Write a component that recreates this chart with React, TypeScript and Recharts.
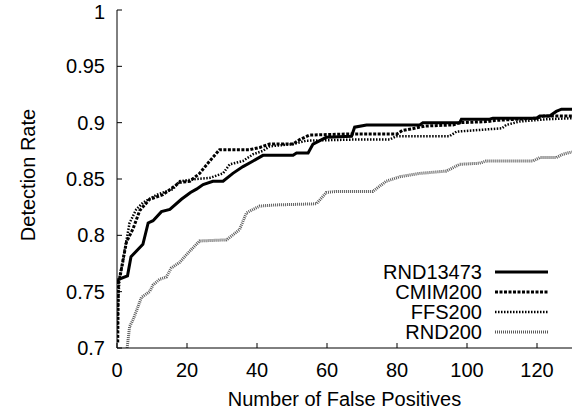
import React from "react";
import { LineChart, Line, XAxis, YAxis, Legend } from "recharts";

// values
const xTicks = [0, 20, 40, 60, 80, 100, 120];
const yTicks = [0.7, 0.75, 0.8, 0.85, 0.9, 0.95, 1];

const rnd13473X = [0, 0.5, 3, 4, 7.4, 8.9, 10.3, 12.7, 15.1, 18.4, 21, 22.7, 24.6, 27.4, 30.3, 33.1, 36, 38.9, 41.7, 50.3, 51.3, 54.6, 56, 59.8, 67, 67.9, 71.3, 86.5, 87.4, 97.9, 98.4, 106.5, 107.4, 119.8, 120.8, 123.6, 125.5, 127, 130];
const rnd13473Y = [0.757, 0.761, 0.764, 0.781, 0.792, 0.811, 0.813, 0.821, 0.823, 0.832, 0.838, 0.841, 0.845, 0.848, 0.848, 0.855, 0.861, 0.866, 0.871, 0.871, 0.873, 0.873, 0.881, 0.887, 0.888, 0.896, 0.898, 0.898, 0.9, 0.9, 0.903, 0.903, 0.904, 0.904, 0.906, 0.906, 0.91, 0.912, 0.912];

const cmimX = [0.2, 0.4, 0.8, 1.7, 2.7, 4.6, 6.5, 9.3, 13.1, 17.9, 20.8, 23.6, 26.5, 29.3, 37.9, 40.8, 43.6, 50.3, 52.2, 55, 66.5, 80, 81.5, 85, 88, 96, 98, 106, 108, 120, 122, 130];
const cmimY = [0.705, 0.76, 0.762, 0.778, 0.794, 0.806, 0.822, 0.832, 0.836, 0.847, 0.848, 0.855, 0.866, 0.876, 0.876, 0.878, 0.881, 0.881, 0.885, 0.889, 0.89, 0.89, 0.893, 0.895, 0.897, 0.898, 0.9, 0.901, 0.902, 0.904, 0.906, 0.906];

const ffsX = [0, 0.3, 0.8, 1.7, 2.2, 3.6, 5.5, 7.4, 11.3, 16, 17.9, 22.7, 26.5, 30.3, 32.2, 36, 38.9, 41.7, 43.6, 50.3, 54.1, 67.4, 77.9, 79.8, 95, 97, 105.5, 110, 111.2, 115, 122.7, 130];
const ffsY = [0.715, 0.74, 0.765, 0.776, 0.787, 0.811, 0.823, 0.829, 0.836, 0.841, 0.848, 0.85, 0.851, 0.855, 0.863, 0.866, 0.872, 0.875, 0.879, 0.881, 0.884, 0.885, 0.885, 0.888, 0.888, 0.892, 0.894, 0.895, 0.898, 0.901, 0.903, 0.904];

const rnd200X = [2.9, 3.6, 4.6, 7, 9.3, 10.3, 12.2, 14.1, 15.5, 17.9, 19.3, 20.8, 23.6, 31.3, 35, 37, 40.8, 45.5, 57, 59.8, 62.6, 73.1, 76.9, 80.8, 86.5, 94.1, 97.9, 103.6, 105.5, 118.9, 120.8, 125.5, 127.4, 130];
const rnd200Y = [0.7, 0.719, 0.725, 0.745, 0.75, 0.756, 0.761, 0.763, 0.771, 0.776, 0.781, 0.786, 0.795, 0.796, 0.805, 0.82, 0.826, 0.827, 0.828, 0.838, 0.839, 0.839, 0.848, 0.852, 0.855, 0.857, 0.863, 0.864, 0.866, 0.866, 0.869, 0.869, 0.872, 0.874];

const toPoints = (xs: number[], ys: number[]) => xs.map((x, i) => ({ x, y: ys[i] }));

const series = [
  { name: "RND13473", data: toPoints(rnd13473X, rnd13473Y), color: "#000", width: 3, dash: undefined as string | undefined },
  { name: "CMIM200", data: toPoints(cmimX, cmimY), color: "#000", width: 3, dash: "3 1.5" },
  { name: "FFS200", data: toPoints(ffsX, ffsY), color: "#000", width: 2.5, dash: "1.5 1.5" },
  { name: "RND200", data: toPoints(rnd200X, rnd200Y), color: "#5a5a5a", width: 3, dash: "1 1" },
];

const FONT = "'Liberation Sans', Arial, Helvetica, sans-serif";
const FS = 20;

function LegendBox() {
  return (
    <div style={{ fontFamily: FONT, fontSize: FS, color: "#000" }}>
      {series.map((s) => (
        <div key={s.name} style={{ display: "flex", alignItems: "center", height: 20 }}>
          <span style={{ width: 122, textAlign: "right", lineHeight: "20px" }}>{s.name}</span>
          <svg width={66} height={20}>
            <line x1={13} x2={66} y1={10} y2={10} stroke={s.color} strokeWidth={s.width} strokeDasharray={s.dash} />
          </svg>
        </div>
      ))}
    </div>
  );
}

export default function App() {
  return (
    <div style={{ position: "absolute", left: 0, top: 0, width: 573, height: 411, background: "#fff", fontFamily: FONT }}>
      <LineChart width={573} height={411} margin={{ top: 10, right: 1, bottom: 0, left: 0 }}>
        <XAxis
          type="number"
          dataKey="x"
          domain={[0, 130]}
          ticks={xTicks}
          allowDataOverflow
          height={63}
          tickSize={-5}
          tickMargin={20}
          stroke="#000"
          tick={{ fill: "#000", fontSize: FS }}
          label={{ value: "Number of False Positives", position: "insideBottom", offset: 5, fill: "#000", fontSize: FS }}
        />
        <XAxis
          xAxisId="top"
          orientation="top"
          type="number"
          domain={[0, 130]}
          ticks={xTicks}
          height={0}
          tickSize={-5}
          tick={false}
          stroke="#000"
        />
        <YAxis
          type="number"
          domain={[0.7, 1]}
          ticks={yTicks}
          allowDataOverflow
          width={117}
          tickSize={-5}
          tickMargin={17}
          stroke="#000"
          tick={{ fill: "#000", fontSize: FS }}
          label={{ value: "Detection Rate", angle: -90, position: "center", dx: -31, dy: -4, fill: "#000", fontSize: FS }}
        />
        <YAxis
          yAxisId="right"
          orientation="right"
          type="number"
          domain={[0.7, 1]}
          ticks={yTicks}
          width={0}
          tickSize={-5}
          tick={false}
          stroke="#000"
        />
        {series.map((s) => (
          <Line
            key={s.name}
            data={s.data}
            dataKey="y"
            name={s.name}
            type="linear"
            stroke={s.color}
            strokeWidth={s.width}
            strokeDasharray={s.dash}
            dot={false}
            activeDot={false}
            isAnimationActive={false}
          />
        ))}
        <Legend
          layout="vertical"
          align="center"
          verticalAlign="middle"
          content={<LegendBox />}
          wrapperStyle={{ left: 360, top: 262, width: 200 }}
        />
      </LineChart>
    </div>
  );
}
